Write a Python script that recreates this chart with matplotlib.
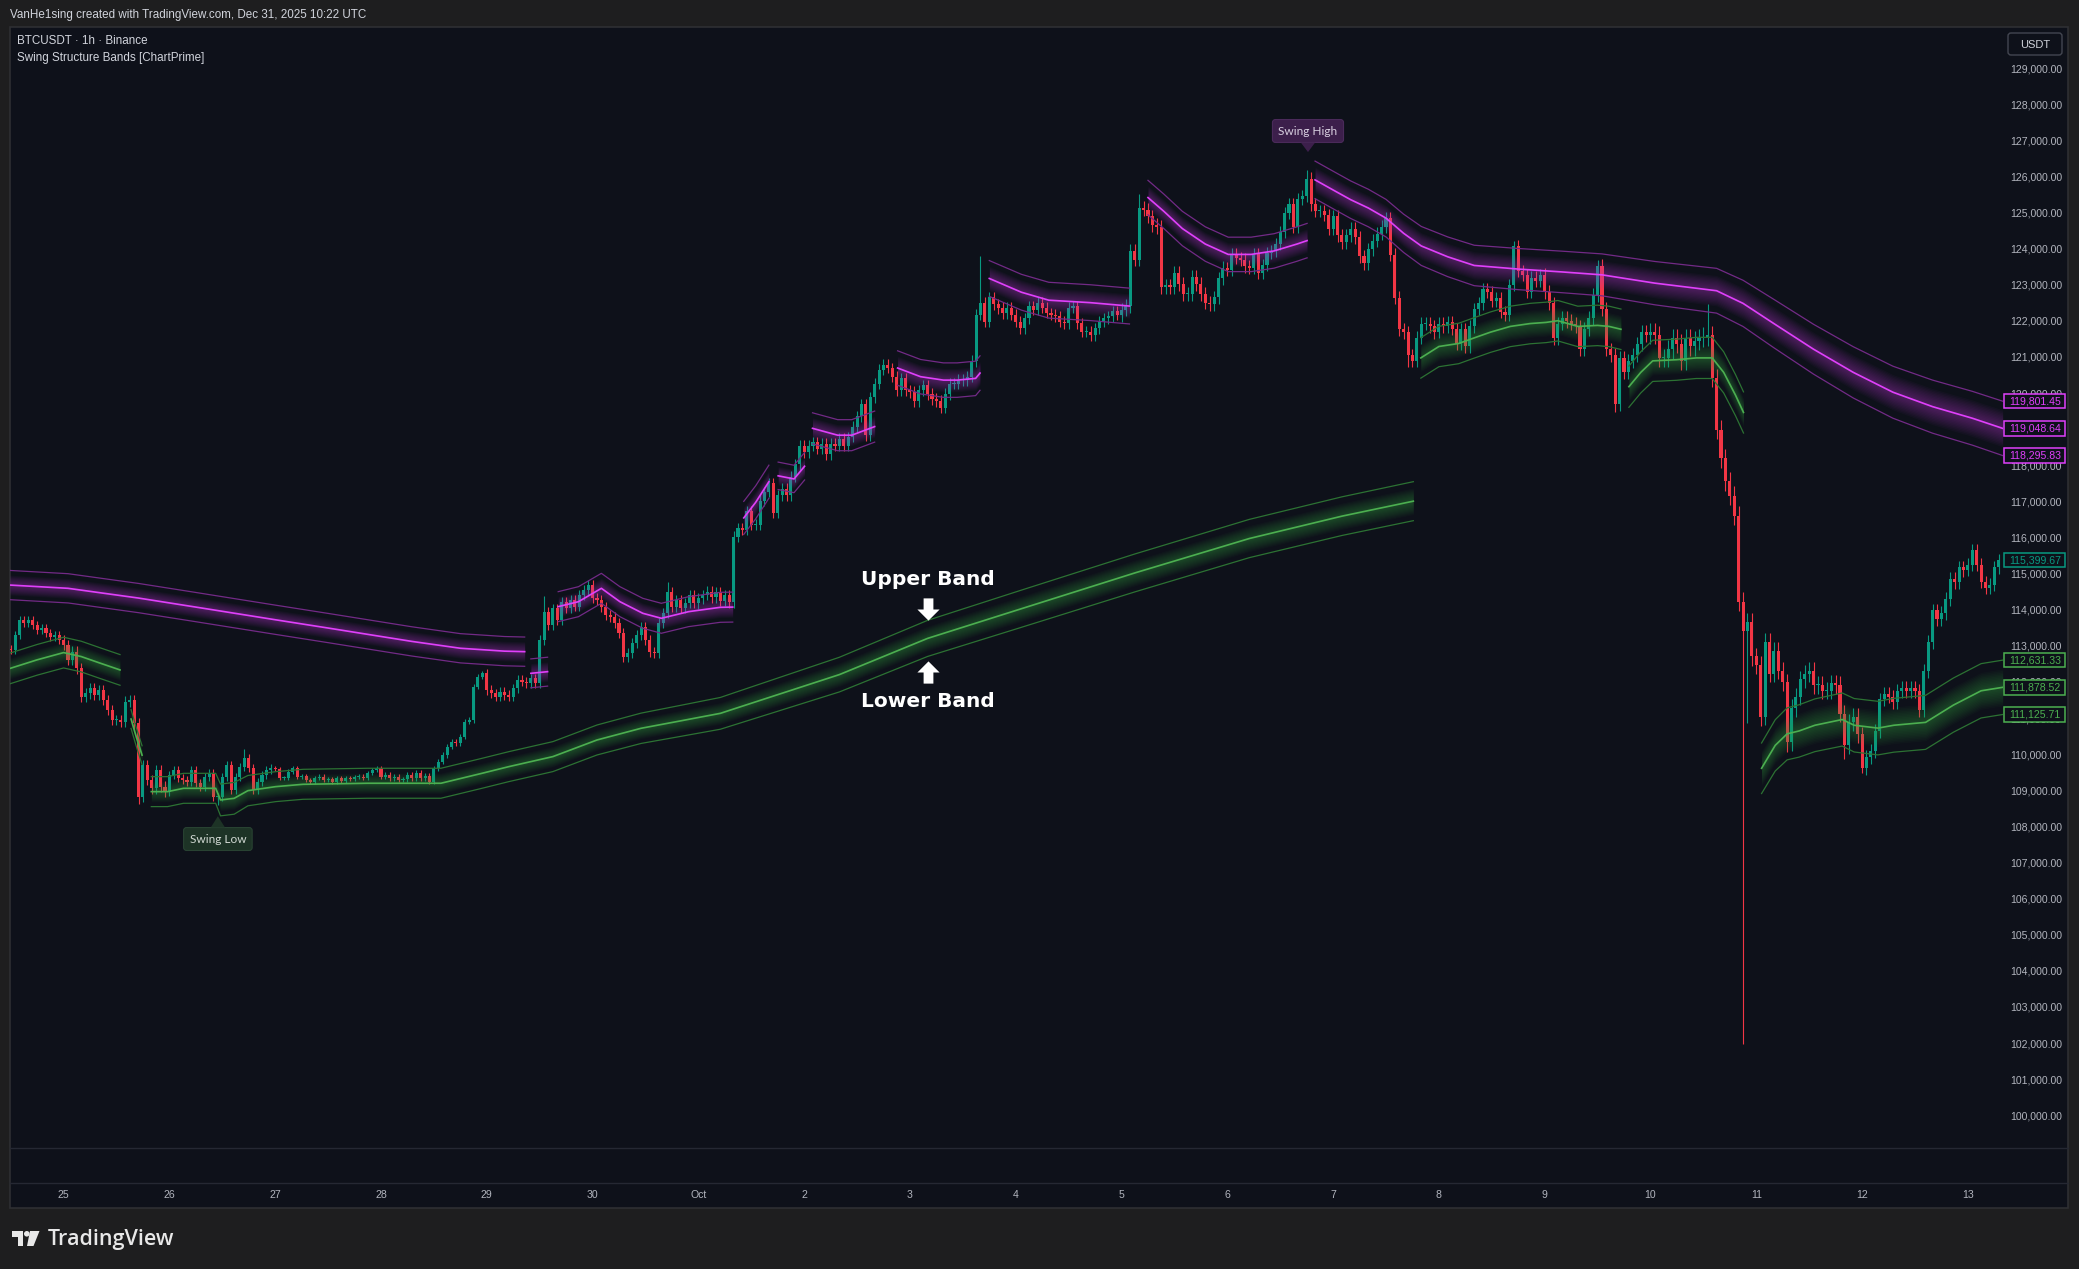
import numpy as np
import matplotlib
matplotlib.use("Agg")
import matplotlib.pyplot as plt
import matplotlib.transforms as mtransforms
from matplotlib.patches import Rectangle, Polygon, Circle, FancyBboxPatch

plt.rcParams['font.family'] = ['Liberation Sans', 'DejaVu Sans']

W, H = 2079, 1269

# ---------------- price data: BTCUSDT 1h, hour 0 = Sep 25 00:00 ----------------
first_hour = -12
first_open = 112950
closes = [
    # Sep 24 (12:00 ->)
    112912, 113328, 113743, 113650, 113743, 113605, 113466, 113512, 113374, 113282, 113328, 113189,
    # Sep 25
    113050, 112635, 112866, 112405, 111620, 111712, 111850, 111666, 111805, 111528, 111251, 110974,
    110974, 110928, 111482, 111528, 110882, 108851, 109728, 109313, 109082, 109590, 109128, 108990,
    # Sep 26
    109451, 109590, 109359, 109313, 109266, 109590, 109220, 109128, 109405, 109497, 108851, 108851,
    109405, 109728, 109036, 109405, 109682, 109913, 109636, 109036, 109266, 109451, 109590, 109636,
    # Sep 27
    109608, 109359, 109359, 109543, 109636, 109405, 109423, 109313, 109266, 109359, 109405, 109313,
    109331, 109266, 109359, 109294, 109359, 109331, 109386, 109405, 109359, 109497, 109590, 109636,
    # Sep 28
    109405, 109451, 109359, 109405, 109313, 109331, 109451, 109359, 109516, 109359, 109423, 109266,
    109636, 109820, 110005, 110236, 110374, 110328, 110513, 110928, 110974, 111897, 112174, 112266,
    # Sep 29
    111805, 111712, 111620, 111758, 111666, 111620, 111850, 112082, 112035, 111990, 112128, 111990,
    113189, 113974, 113605, 114066, 113743, 114250, 114066, 114297, 114112, 114435, 114574, 114712,
    # Sep 30
    114343, 114297, 114112, 113882, 113835, 113651, 113374, 112728, 112820, 113097, 113328, 113559,
    113189, 112866, 112820, 113651, 113928, 114528, 114112, 114297, 114066, 114205, 114435, 114205,
    # Oct 1
    114343, 114435, 114528, 114377, 114520, 114282, 114425, 114234, 116047, 116285, 116237, 116762,
    116380, 116380, 117047, 117286, 117524, 116714, 117191, 117381, 117191, 117715, 118049, 118573,
    # Oct 2
    118383, 118573, 118669, 118478, 118621, 118335, 118621, 118573, 118764, 118573, 118812, 119098,
    119384, 119718, 118860, 119908, 120290, 120671, 120815, 120719, 120481, 120099, 120433, 120099,
    # Oct 3
    120052, 119813, 120099, 120242, 120004, 119861, 119813, 119622, 120004, 120290, 120290, 120385,
    120385, 120481, 120910, 122198, 122531, 122007, 122674, 122484, 122388, 122245, 122388, 122198,
    # Oct 4
    122007, 121816, 122102, 122436, 122340, 122531, 122388, 122245, 122198, 122150, 122007, 121959,
    122388, 122436, 121959, 121721, 121721, 121625, 121816, 122007, 122102, 122150, 122293, 122198,
    # Oct 5
    122340, 122436, 123962, 123723, 125154, 125106, 124916, 124677, 124630, 122960, 123008, 122960,
    123342, 123056, 122770, 122770, 123246, 123056, 122770, 122531, 122484, 122674, 123199, 123485,
    # Oct 6
    123437, 123866, 123771, 123723, 123532, 123485, 123866, 123342, 123580, 123914, 123962, 124153,
    124486, 125011, 125250, 124630, 125392, 125488, 125965, 125250, 125059, 125059, 124963, 124582,
    # Oct 7
    124916, 124391, 124200, 124391, 124582, 124343, 123819, 123628, 124010, 124248, 124439, 124630,
    124868, 123858, 122666, 121793, 121713, 121077, 120918, 121554, 121951, 121951, 121872, 121713,
    # Oct 8
    121951, 121872, 121983, 121793, 121395, 121793, 121316, 121872, 122349, 122507, 122905, 122825,
    122587, 122666, 122269, 122190, 123016, 124096, 123413, 123302, 122825, 123223, 123143, 123302,
    # Oct 9
    122825, 122507, 121554, 121951, 122110, 122031, 121951, 121872, 121236, 121793, 122110, 122746,
    123540, 122349, 121236, 121077, 119727, 120998, 120601, 120918, 121077, 121395, 121713, 121634,
    # Oct 10
    121713, 121634, 120998, 120998, 121236, 121554, 121395, 120918, 121554, 121316, 121475, 121554,
    121586, 121634, 120442, 119012, 118217, 117582, 117184, 116628, 114245, 113450, 113689, 112735,
    # Oct 11
    112497, 111067, 113132, 112258, 112894, 112338, 112020, 110352, 111305, 111623, 112100, 112258,
    112338, 111941, 111941, 111782, 111782, 111988, 111941, 111146, 110272, 110908, 111067, 110590,
    # Oct 12
    109637, 109954, 110113, 110670, 111543, 111702, 111623, 111464, 111782, 111861, 111782, 111861,
    111782, 111258, 112338, 113132, 114006, 113768, 113927, 114324, 114880, 114801, 115198, 115119,
    # Oct 13
    115277, 115675, 115277, 114801, 114642, 114722, 115198, 115399.67,
]
# typical wick length per day, Sep 24 .. Oct 13
wick_per_day = [110, 150, 110, 60, 70, 130, 140, 150, 150, 160, 150, 190, 170, 180, 170, 190, 260, 240, 190, 170]
spike_highs = {41: 110170, 109: 114400, 137: 114800, 208: 123820, 244: 125550,
               282: 126200, 329: 124250, 348: 123700, 373: 122500}
spike_lows = {17: 108650, 35: 108630, 305: 120750, 352: 119500, 381: 102000,
              382: 110900, 385: 110800, 391: 110100, 404: 109900, 408: 109500}

# ---------------- Swing Structure Bands (hour, centre price, half width) ----------------
P1_h = [-12.2, 1, 17, 30, 48, 60, 79, 90, 100, 104.6]
P1_c = [114710, 114620, 114350, 114100, 113750, 113520, 113150, 112960, 112880, 112866]
P1_w = 405
P2a_h = [106, 108, 109.8]
P2a_c = [112266, 112290, 112312]
P2a_w = 400
P2b_h = [112.2, 116.8, 122, 126.2, 131.4, 135.6, 138.7, 141.8, 149, 151.8]
P2b_c = [114112, 114250, 114620, 114250, 113928, 113790, 113882, 113974, 114094, 114100]
P2b_w = 415
P3a_h = [154.3, 157, 160.0]
P3a_c = [116570, 117000, 117572]
P3a_w = 458
P3b_h = [162.1, 165.7, 168.1]
P3b_c = [117735, 117648, 118000]
P3b_w = 380
P4_h = [169.9, 175.6, 178.8, 184]
P4_c = [119050, 118860, 118860, 119098]
P4_w = 430
P5_h = [189.2, 194.4, 199.6, 202.7, 206.9, 207.9]
P5_c = [120720, 120480, 120385, 120385, 120433, 120580]
P5_w = 477
P6_h = [210, 217.3, 223.5, 232.9, 241.8]
P6_c = [123200, 122818, 122598, 122530, 122436]
P6_w = 496
P7_h = [246, 249.6, 253.8, 259, 264.2, 269.4, 274.6, 279.8, 282.1]
P7_c = [125440, 125059, 124582, 124153, 123866, 123866, 123962, 124153, 124248]
P7_w = 477
P8_h = [283.9, 288, 292, 296, 300, 304, 308, 314, 320, 330, 340, 349, 361, 375, 381, 388,
        397, 406, 415, 424, 433, 439.9]
P8_c = [125930, 125650, 125380, 125150, 124870, 124450, 124100, 123800, 123560, 123460, 123380,
        123300, 123070, 122860, 122510, 121950, 121240, 120600, 120050, 119650, 119330, 119048.64]
P8_w = [520, 520, 520, 520, 520, 530, 540, 550, 560, 570, 575, 580, 600, 620, 640, 670, 690,
        710, 720, 735, 745, 752.81]

G1_h = [-12.2, -6, 0, 4, 8, 12.8]
G1_c = [112400, 112640, 112840, 112730, 112560, 112360]
G1_w = 425
G2_h = [15.3, 16.5, 17.8]
G2_c = [111000, 110500, 110000]
G2_w = 260
G3_h = [19.9, 23.6, 27.2, 34.5, 35.6, 38.7, 41.8, 48.1, 54.3, 68.9, 85.6, 95, 101, 111, 121,
        131, 140, 149, 152, 176, 196, 217, 243, 269, 290, 306.2]
G3_c = [108990, 108990, 109082, 109082, 108759, 108805, 109017, 109128, 109193, 109222, 109222,
        109500, 109682, 109960, 110420, 110744, 110950, 111158, 111278, 112231, 113233, 114044,
        115045, 115999, 116618, 117033]
G3_w = [415, 415, 415, 415, 440, 440, 420, 415, 415, 415, 415, 415, 415, 415, 415, 420, 430,
        440, 445, 480, 500, 515, 525, 530, 535, 540]
G4_h = [307.9, 312, 316.5, 320, 323.7, 328.2, 332.7, 336.3, 339, 343.5, 348, 350.6, 353.3]
G4_c = [121000, 121316, 121400, 121554, 121713, 121872, 121951, 121983, 122030, 121872, 121900,
        121872, 121793]
G4_w = 560
G5_h = [355.1, 357.8, 360.5, 365.9, 370.4, 374, 376.6, 379.3, 381.1]
G5_c = [120203, 120600, 120918, 120950, 121000, 121000, 120600, 119965, 119490]
G5_w = 570
G6_h = [385.2, 388.3, 391, 393.7, 397.3, 403.5, 406.2, 411.6, 415.2, 422.4, 428.7, 435, 439.9]
G6_c = [109637, 110272, 110590, 110670, 110828, 110987, 110828, 110749, 110828, 110908, 111385,
        111782, 111878.52]
G6_w = [700, 710, 720, 725, 730, 735, 740, 742, 745, 748, 750, 752, 752.81]

right_label_values = [119801.45, 119048.64, 118295.83, 115399.67, 112631.33, 111878.52, 111125.71]
right_label_colors = ['#e040fb', '#e040fb', '#e040fb', '#089981', '#4caf50', '#4caf50', '#4caf50']
price_ticks = list(range(100000, 130000, 1000))
day_labels = ['25', '26', '27', '28', '29', '30', 'Oct', '2', '3', '4', '5', '6', '7', '8', '9',
              '10', '11', '12', '13']

# ---------------- figure ----------------
BG_OUT = '#1e1e1f'
BG_PANE = '#0e111a'
GRID = '#252833'
TXT = '#b2b5be'
UP, DOWN = '#089981', '#f23645'

fig = plt.figure(figsize=(W / 100, H / 100), dpi=100, facecolor=BG_OUT)

# background axes in pixel coordinates
bg = fig.add_axes([0, 0, 1, 1], zorder=-1)
bg.set_xlim(0, W)
bg.set_ylim(H, 0)
bg.axis('off')
bg.add_patch(Rectangle((10, 27), 2058, 1181, fc=BG_PANE, ec='#2e2f33', lw=1.2))
bg.plot([10, 2068], [1148, 1148], color=GRID, lw=1)
bg.plot([10, 2068], [1183, 1183], color=GRID, lw=1)

bg.text(10, 15, 'VanHe1sing created with TradingView.com, Dec 31, 2025 10:22 UTC',
        color='#d1d4dc', fontsize=8.4, va='center', ha='left')
bg.text(17, 41, 'BTCUSDT · 1h · Binance', color='#d1d4dc', fontsize=8.4, va='center')
bg.text(17, 58, 'Swing Structure Bands [ChartPrime]', color='#d1d4dc', fontsize=8.4, va='center')

bg.add_patch(FancyBboxPatch((2008, 33), 54, 22, boxstyle='round,pad=0,rounding_size=3',
                            fc='#0e111a', ec='#434651', lw=1))
bg.text(2035, 44.5, 'USDT', color='#d1d4dc', fontsize=8, ha='center', va='center')

# TradingView logo
bg.add_patch(Polygon([(11.5, 1231), (23, 1231), (23, 1246), (17.5, 1246), (17.5, 1237),
                      (11.5, 1237)], closed=True, fc='#e8e8e8', ec='none'))
bg.add_patch(Circle((26.8, 1233.8), 2.8, fc='#e8e8e8', ec='none'))
bg.add_patch(Polygon([(30, 1231), (39.5, 1231), (33.5, 1246), (27, 1246)], closed=True,
                     fc='#e8e8e8', ec='none'))
bg.text(48, 1239, 'TradingView', color='#e8e8e8', fontsize=15.5, fontweight='semibold',
        family=['Open Sans', 'DejaVu Sans'], va='center', ha='left')

# main price pane
L, R, T, B = 10, 2003, 27, 1148
ax = fig.add_axes([L / W, 1 - B / H, (R - L) / W, (B - T) / H], zorder=1)
ax.patch.set_alpha(0)
ax.axis('off')
ax.set_xlim(-12.16, 439.97)
ax.set_ylim(99122, 130163)

# candles
c = np.array(closes, dtype=float)
hours = np.arange(first_hour, first_hour + len(c))
o = np.r_[first_open, c[:-1]]
wk = np.array(wick_per_day, dtype=float)[hours // 24 + 1]
hi = np.maximum(o, c) + wk
lo = np.minimum(o, c) - wk
for k, v in spike_highs.items():
    hi[k - first_hour] = v
for k, v in spike_lows.items():
    lo[k - first_hour] = v
cols = np.where(c >= o, UP, DOWN)
ax.vlines(hours, lo, hi, colors=cols, lw=0.8, zorder=2)
ax.bar(hours, np.maximum(np.abs(c - o), 25), 0.7, bottom=np.minimum(o, c), color=cols,
       lw=0, zorder=2)

# bands
styles = {'p': ('#b936d0', '#722a86', '#e040fb'), 'g': ('#3aa845', '#2c7233', '#4caf50')}
bands = [(P1_h, P1_c, P1_w, 'p'), (P2a_h, P2a_c, P2a_w, 'p'), (P2b_h, P2b_c, P2b_w, 'p'),
         (P3a_h, P3a_c, P3a_w, 'p'), (P3b_h, P3b_c, P3b_w, 'p'), (P4_h, P4_c, P4_w, 'p'),
         (P5_h, P5_c, P5_w, 'p'), (P6_h, P6_c, P6_w, 'p'), (P7_h, P7_c, P7_w, 'p'),
         (P8_h, P8_c, P8_w, 'p'),
         (G1_h, G1_c, G1_w, 'g'), (G2_h, G2_c, G2_w, 'g'), (G3_h, G3_c, G3_w, 'g'),
         (G4_h, G4_c, G4_w, 'g'), (G5_h, G5_c, G5_w, 'g'), (G6_h, G6_c, G6_w, 'g')]
for bh, bc, bw, kind in bands:
    glow, edge, line = styles[kind]
    bh = np.asarray(bh, float)
    bc = np.asarray(bc, float)
    bw = np.broadcast_to(np.asarray(bw, float), bc.shape)
    for f in np.linspace(0.68, 0.06, 12):
        ax.fill_between(bh, bc - f * bw, bc + f * bw, color=glow, alpha=0.04, lw=0, zorder=3)
    ax.plot(bh, bc + bw, color=edge, lw=0.9, zorder=4)
    ax.plot(bh, bc - bw, color=edge, lw=0.9, zorder=4)
    ax.plot(bh, bc, color=line, lw=1.2, zorder=5)

# swing labels
ax.text(282.3, 127283, 'Swing High', color='#d8cfe0', fontsize=8.6, family=['Lato', 'DejaVu Sans'],
        ha='center', va='center', zorder=7,
        bbox=dict(boxstyle='round,pad=0.5,rounding_size=0.25', fc='#3c1f4b', ec='#4a2a5a', lw=0.8))
ax.add_patch(Polygon([(280.7, 126960), (283.9, 126960), (282.3, 126700)], closed=True,
                     fc='#3c1f4b', ec='none', zorder=7))
ax.text(35.0, 107678, 'Swing Low', color='#d0d8d2', fontsize=8.6, family=['Lato', 'DejaVu Sans'],
        ha='center', va='center', zorder=7,
        bbox=dict(boxstyle='round,pad=0.5,rounding_size=0.25', fc='#1d3326', ec='#284232', lw=0.8))
ax.add_patch(Polygon([(33.4, 108000), (36.6, 108000), (35.0, 108310)], closed=True,
                     fc='#1d3326', ec='none', zorder=7))

# annotation text and block arrows
ax.text(196.1, 114864, 'Upper Band', color='white', fontsize=14.5, fontweight='bold',
        family=['DejaVu Sans'], ha='center', va='center', zorder=8)
ax.text(196.1, 111486, 'Lower Band', color='white', fontsize=14.5, fontweight='bold',
        family=['DejaVu Sans'], ha='center', va='center', zorder=8)
arrow_down = [(-0.22, 0.5), (0.22, 0.5), (0.22, 0.0), (0.5, 0.0), (0.0, -0.5), (-0.5, 0.0),
              (-0.22, 0.0), (-0.22, 0.5)]
arrow_up = [(x, -y) for x, y in arrow_down]
ax.plot([196.1], [114058], marker=arrow_down, markersize=16, color='white', mew=0, zorder=8)
ax.plot([196.1], [112303], marker=arrow_up, markersize=16, color='white', mew=0, zorder=8)

# right price scale (value boxes sit on top of the scale, as in the original)
ytrans = mtransforms.blended_transform_factory(fig.transFigure, ax.transData)
for p in price_ticks:
    ax.text(2036 / W, p, f'{p:,.2f}', transform=ytrans, color=TXT, fontsize=7.6,
            family=['Liberation Sans Narrow', 'Liberation Sans'], ha='center', va='center',
            zorder=9)
for v, col in zip(right_label_values, right_label_colors):
    ax.add_patch(Rectangle((2004 / W, v - 200), 61 / W, 400, transform=ytrans, fc=BG_PANE,
                           ec=col, lw=1.1, clip_on=False, zorder=10))
    ax.text(2035 / W, v, f'{v:,.2f}', transform=ytrans, color=col, fontsize=7.6,
            family=['Liberation Sans Narrow', 'Liberation Sans'], ha='center', va='center',
            zorder=11)

# time scale
xtrans = mtransforms.blended_transform_factory(ax.transData, fig.transFigure)
for i, lab in enumerate(day_labels):
    ax.text(24 * i, 1 - 1195 / H, lab, transform=xtrans, color=TXT, fontsize=7.6,
            family=['Liberation Sans Narrow', 'Liberation Sans'], ha='center', va='center')

fig.savefig('out.png', dpi=100, facecolor=BG_OUT)
